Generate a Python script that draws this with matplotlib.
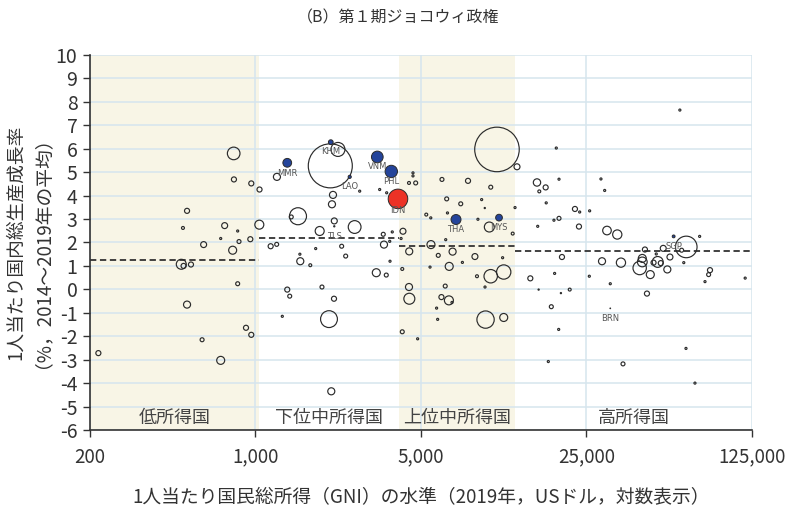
import matplotlib
matplotlib.use("Agg")
import matplotlib.pyplot as plt
from matplotlib.ticker import FixedLocator, FixedFormatter

plt.rcParams['font.family'] = ['Noto Sans CJK JP', 'DejaVu Sans']
plt.rcParams['axes.unicode_minus'] = False

# income group boundaries (GNI per capita, USD) and group averages
bounds = [200, 1035, 4045, 12535, 125000]
group_names = ['低所得国', '下位中所得国', '上位中所得国', '高所得国']
group_means = [1.24, 2.21, 1.86, 1.63]

# all other countries: GNI per capita, growth (%), population (millions)
gni = [
    809, 811, 960, 1040, 514, 494, 741, 841, 1038, 713, 852, 951, 604, 801,
    486, 497, 534, 841, 514, 595, 912, 960, 713, 217,
    1232, 1512, 1416, 1546, 1540, 1704, 1362, 1395, 1298, 1159, 1229, 2070,
    2230, 2755, 3346, 3582, 2125, 2104, 2152, 1867, 2623, 3465, 3782, 3690,
    3489, 1796, 2312, 2404, 3700, 3238, 3568, 1909, 2146, 2044, 2090, 4197,
    4120, 4168, 4168,
    4626, 4626, 4450, 4749, 6132, 7900, 9854, 10470, 12720, 4460, 5510, 5264,
    5500, 6420, 7360, 9020, 6470, 8700, 9720, 9300, 12480, 12200, 6360, 6800,
    5915, 8450, 6580, 5460, 7480, 11060, 9850, 11180, 8620, 9320, 4450, 6330,
    4465, 6100, 6560, 6760, 5820, 5880, 9370, 11180, 4840, 14480,
    18640, 15450, 16810, 15800, 19140, 16900, 28780, 29840, 22350, 23400,
    25780, 19140, 18220, 15560, 23240, 30520, 33730, 75140, 65980, 63080,
    44140, 52740, 49280, 56300, 43020, 43020, 41940, 49980, 48000, 51500,
    54880, 46500, 34960, 29080, 19700, 18340, 25700, 21240, 19500, 31510,
    45020, 83100, 82000, 79160, 117000, 17760, 19080, 17250, 35660, 65800,
    71800, 62000, 64400, 15700,
]
growth = [
    5.80, 4.69, 4.52, 4.26, 3.35, 2.62, 2.72, 2.49, 2.76, 2.17, 2.04, 2.14, 1.91, 1.67,
    1.07, 1.00, 1.06, 0.24, -0.65, -2.15, -1.64, -1.94, -3.03, -2.72,
    4.80, 3.12, 3.09, 1.20, 1.50, 1.03, -0.01, -0.29, -1.15, 1.84, 1.92, 5.27,
    5.97, 4.19, 4.26, 4.12, 4.03, 3.63, 2.92, 2.49, 2.66, 2.35, 2.45, 2.05,
    1.91, 1.74, 1.84, 1.42, 1.20, 0.71, 0.61, 0.10, -0.40, -1.27, -4.35, 2.48,
    2.17, -1.81, 0.87,
    4.97, 4.84, 4.54, 4.54, 4.69, 4.63, 4.36, 5.97, 5.23, 1.62, 1.91, 3.19,
    3.05, 3.86, 3.65, 3.83, 3.26, 2.99, 2.66, 3.47, 3.49, 2.38, 2.12, 1.61,
    1.45, 1.40, 0.98, 0.95, 1.15, 1.35, 0.56, 0.74, 0.56, 0.10, 0.10, 0.14,
    -0.40, -0.33, -0.47, -0.56, -0.80, -1.28, -1.29, -1.20, -2.11, 0.47,
    6.03, 4.56, 4.35, 4.18, 4.70, 3.69, 4.71, 4.22, 3.43, 3.30,
    3.35, 3.03, 2.95, 2.69, 2.68, 2.51, 2.34, 2.26, 1.81, 1.67,
    1.70, 1.75, 1.51, 1.38, 1.17, 1.32, 0.91, 1.17, 1.14, 1.12,
    0.85, 0.63, 1.14, 1.20, 1.38, 0.68, 0.56, -0.01, -0.16, 0.24,
    -0.18, 0.82, 0.63, 0.33, 0.48, -0.74, -1.71, -3.08, -3.18, -2.52,
    -4.00, 7.65, 1.14, -0.01,
]
pop = [
    112, 18, 18, 18, 18, 6, 25, 3, 57, 3, 11, 18, 25, 45,
    70, 18, 18, 11, 35, 11, 18, 18, 45, 18,
    35, 204, 11, 35, 3, 6, 18, 11, 3, 18, 11, 1366,
    138, 3, 3, 3, 35, 35, 25, 57, 115, 11, 3, 3,
    35, 3, 11, 11, 3, 45, 11, 11, 18, 200, 35, 25,
    3, 11, 6,
    3, 3, 6, 11, 11, 18, 11, 1398, 25, 35, 45, 6,
    3, 11, 11, 3, 3, 3, 70, 1, 3, 6, 3, 35,
    11, 25, 45, 3, 3, 3, 127, 144, 6, 3, 35, 11,
    85, 18, 57, 3, 3, 3, 211, 45, 3, 18,
    3, 38, 18, 6, 3, 3, 3, 3, 18, 3,
    3, 11, 3, 3, 18, 52, 60, 3, 328, 11,
    18, 25, 3, 25, 67, 45, 126, 83, 18, 18,
    35, 45, 60, 35, 18, 3, 3, 6, 1, 3,
    18, 18, 11, 3, 3, 11, 3, 3, 11, 3,
    3, 3, 3, 1,
]

# ASEAN members
asean_codes = ['MMR', 'KHM', 'LAO', 'VNM', 'PHL', 'IDN', 'THA', 'MYS', 'SGP', 'BRN', 'TLS']
asean_gni = [1362, 2080, 2500, 3270, 3746, 3998, 7030, 10680, 58360, 31510, 2152]
asean_growth = [5.40, 6.28, 4.80, 5.65, 5.03, 3.86, 2.98, 3.06, 2.26, -0.81, 2.69]
asean_pop = [54, 16, 7, 96, 108, 270, 70, 32, 5.7, 0.4, 1.3]

SIZE = 0.735  # marker area (pt^2) per million people
edge = '#2b2b2b'
blue = '#24449b'
red = '#ec3226'
cream = '#f8f5e6'
gridc = '#d6e5ee'

fig = plt.figure(figsize=(7.97, 5.12), dpi=100)
ax = fig.add_axes([0.1129, 0.1602, 0.8306, 0.7324])

# shaded bands for low and upper-middle income groups
for i in (0, 2):
    ax.axvspan(bounds[i], bounds[i + 1], color=cream, zorder=0, lw=0)

ax.set_axisbelow(True)
ax.grid(True, color=gridc, lw=1.1)

for i, m in enumerate(group_means):
    ax.plot([bounds[i], bounds[i + 1]], [m, m], color='#333333', lw=1.3,
            dashes=(3.5, 2), zorder=2)

ax.scatter(gni, growth, s=[p * SIZE for p in pop], facecolors='none',
           edgecolors=edge, linewidths=0.85, zorder=3)

cols = [red if c == 'IDN' else blue for c in asean_codes]
ax.scatter(asean_gni, asean_growth, s=[p * SIZE for p in asean_pop], c=cols,
           edgecolors=edge, linewidths=0.7, zorder=4)

label_off = {'MMR': -8, 'IDN': -8.5}
for c, x, y in zip(asean_codes, asean_gni, asean_growth):
    ax.annotate(c, (x, y), xytext=(0, label_off.get(c, -7)), textcoords='offset points',
                ha='center', va='center', fontsize=6, color='#555555',
                family=['DejaVu Sans'], zorder=5)

for i, name in enumerate(group_names):
    xc = (bounds[i] * bounds[i + 1]) ** 0.5
    ax.text(xc, -5.47, name, ha='center', va='center', fontsize=13,
            color='#444444', zorder=5)

ax.set_xscale('log')
ax.set_xlim(200, 125000)
ax.set_ylim(-6, 10)

xt = [200, 1000, 5000, 25000, 125000]
ax.xaxis.set_major_locator(FixedLocator(xt))
ax.xaxis.set_major_formatter(FixedFormatter([f'{v:,}' for v in xt]))
ax.xaxis.set_minor_locator(FixedLocator([]))
ax.set_yticks(range(-6, 11))
ax.set_yticklabels([str(v) for v in range(-6, 11)])

for s in ('top', 'right'):
    ax.spines[s].set_visible(False)
for s in ('left', 'bottom'):
    ax.spines[s].set_color('#333333')
    ax.spines[s].set_linewidth(1.2)
ax.tick_params(axis='y', length=5, width=1, color='#333333', labelsize=14,
               labelcolor='#333333', pad=4)
ax.tick_params(axis='x', length=5, width=1, color='#333333', labelsize=13.5,
               labelcolor='#333333', pad=7)

ax.set_ylabel('1人当たり国内総生産成長率\n（%，2014～2019年の平均）', fontsize=13.5,
              color='#333333', linespacing=0.78, labelpad=9)
ax.set_xlabel('1人当たり国民総所得（GNI）の水準（2019年，USドル，対数表示）',
              fontsize=13.5, color='#333333', labelpad=14)

fig.text(0.5, 0.965, '（B）第１期ジョコウィ政権', ha='center', va='center',
         fontsize=11.5, color='#333333')

fig.savefig('out.png', dpi=100)
